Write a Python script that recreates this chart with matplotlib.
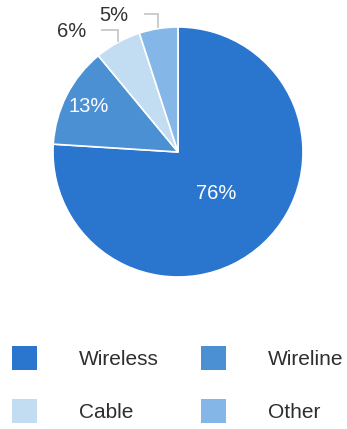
import numpy as np
import matplotlib
matplotlib.use('Agg')
import matplotlib.pyplot as plt
from matplotlib.patches import Patch

plt.rcParams['font.family'] = ['Liberation Sans', 'DejaVu Sans']

# Share by segment
segments = ['Wireless', 'Wireline', 'Cable', 'Other']
shares = [76, 13, 6, 5]
colors = ['#2a76cf', '#4a90d3', '#c2dcf2', '#84b7e7']

W, H = 347, 429
fig = plt.figure(figsize=(W / 100, H / 100), dpi=100)

# pie centred at (178, 152) px, radius 125 px
cx, cy, r = 178, 152, 125
ax = fig.add_axes([(cx - r) / W, 1 - (cy + r) / H, 2 * r / W, 2 * r / H])
wedges, _ = ax.pie(shares, colors=colors, startangle=90, counterclock=False,
                   wedgeprops=dict(edgecolor='white', linewidth=1.2))
ax.set_xlim(-1, 1)
ax.set_ylim(-1, 1)
ax.set_aspect('equal')
ax.axis('off')

def mid_angle(w):
    return np.deg2rad((w.theta1 + w.theta2) / 2)

# labels inside the two big wedges
for w, val, rad in [(wedges[0], shares[0], 0.45), (wedges[1], shares[1], 0.8)]:
    a = mid_angle(w)
    ax.text(rad * np.cos(a), rad * np.sin(a), f'{val}%', color='white',
            fontsize=14.5, ha='center', va='center')

# small wedges get bracket-style leader lines
for w, val, top, left in [(wedges[2], shares[2], 0.976, -0.608),
                          (wedges[3], shares[3], 1.104, -0.264)]:
    a = mid_angle(w)
    x0, y0 = np.cos(a), np.sin(a)
    ax.plot([x0, x0, left], [y0 + 0.01, top, top], color='#c8c8c8',
            lw=1.3, clip_on=False, solid_joinstyle='miter')
    ax.text(left - 0.13, top - 0.01, f'{val}%', color='#333333',
            fontsize=14.5, ha='right', va='center')

# legend filled row by row: Wireless, Wireline / Cable, Other
order = [0, 2, 1, 3]
handles = [Patch(facecolor=colors[i], edgecolor='none') for i in order]
labels = [segments[i] for i in order]
fig.legend(handles, labels, loc='upper left', bbox_to_anchor=(12 / W, 1 - 346 / H),
           ncol=2, frameon=False, fontsize=15, handlelength=1.2,
           handleheight=1.4, handletextpad=2.0, columnspacing=2.05,
           labelspacing=1.4, borderpad=0, borderaxespad=0,
           labelcolor='#2e2e2e')

fig.savefig('out.png', dpi=100, facecolor='white')
